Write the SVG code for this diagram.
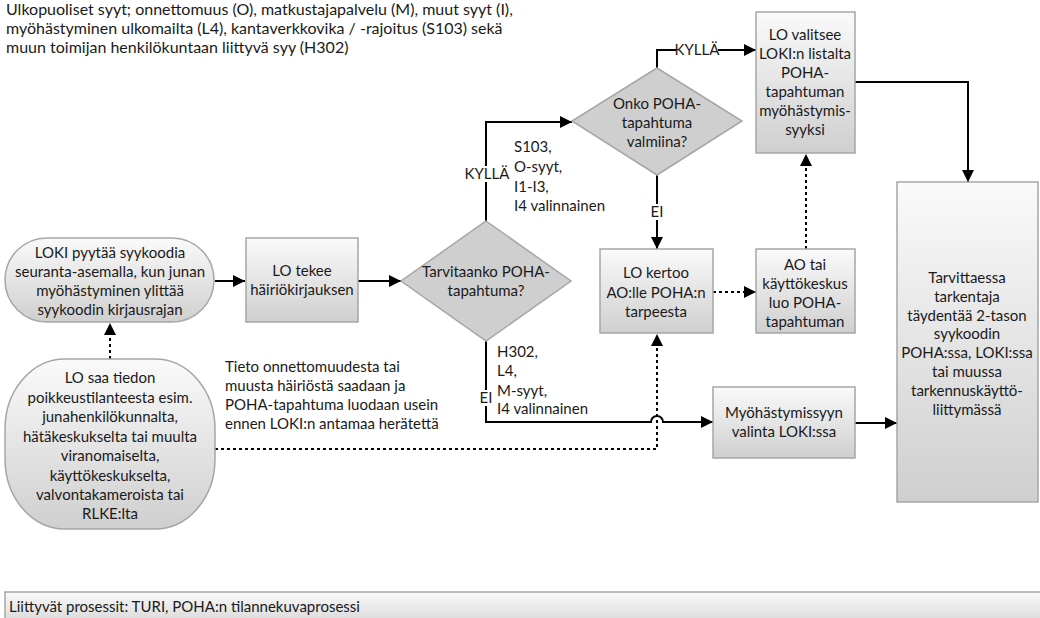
<svg xmlns="http://www.w3.org/2000/svg" width="1040" height="618" viewBox="0 0 1040 618">
<defs>
<linearGradient id="g" x1="0" y1="0" x2="0" y2="1">
<stop offset="0" stop-color="#fafafa"/>
<stop offset="1" stop-color="#cfcfcf"/>
</linearGradient>
<marker id="a" viewBox="0 0 10 10" refX="10" refY="5" markerWidth="12" markerHeight="12" markerUnits="userSpaceOnUse" orient="auto">
<path d="M0,0 L10,5 L0,10 z" fill="#000"/>
</marker>
<style>
text{font-family:Lato,"Liberation Sans",sans-serif;font-size:15px;fill:#1a1a1a}
.c{text-anchor:middle}
.h{font-size:16px}
.n{fill:url(#g);stroke:#a6a6a6;stroke-width:1.5}
.d{fill:#cfcfcf;stroke:#a6a6a6;stroke-width:1.5}
.l{fill:none;stroke:#000;stroke-width:2}
.dot{fill:none;stroke:#000;stroke-width:2;stroke-dasharray:3 3}
.bg{fill:#fff}
</style>
</defs>
<rect width="1040" height="618" fill="#fff"/>

<g id="header">
<text class="h" x="6" y="15">Ulkopuoliset syyt; onnettomuus (O), matkustajapalvelu (M), muut syyt (I),</text>
<text class="h" x="6" y="34">myöhästyminen ulkomailta (L4), kantaverkkovika / -rajoitus (S103) sekä</text>
<text class="h" x="6" y="53">muun toimijan henkilökuntaan liittyvä syy (H302)</text>
</g>

<g id="connectors">
<path class="l" d="M215,281 H245" marker-end="url(#a)"/>
<path class="l" d="M358,281 H401" marker-end="url(#a)"/>
<path class="l" d="M486,221 V122 H572" marker-end="url(#a)"/>
<path class="l" d="M657,68 V50 H756" marker-end="url(#a)"/>
<path class="l" d="M657,175 V249" marker-end="url(#a)"/>
<path class="dot" d="M713,292 H756" marker-end="url(#a)"/>
<path class="dot" d="M806,249 V154" marker-end="url(#a)"/>
<path class="l" d="M855,82 H968 V182" marker-end="url(#a)"/>
<path class="l" d="M486,341 V422 H651 A6,6 0 0 1 663,422 H713" marker-end="url(#a)"/>
<path class="l" d="M855,423 H897" marker-end="url(#a)"/>
<path class="dot" d="M215,449 H657 V334" marker-end="url(#a)"/>
<path class="dot" d="M110,359 V323" marker-end="url(#a)"/>
<rect class="bg" x="676" y="42" width="42" height="16"/>
<text class="c" x="697" y="55">KYLLÄ</text>
<rect class="bg" x="649" y="204" width="16" height="16"/>
<text class="c" x="657" y="217">EI</text>
<rect class="bg" x="467" y="166" width="40" height="16"/>
<text class="c" x="487" y="179">KYLLÄ</text>
<rect class="bg" x="478" y="390" width="16" height="16"/>
<text class="c" x="486" y="403">EI</text>
<text x="514" y="152">S103,</text>
<text x="514" y="172">O-syyt,</text>
<text x="514" y="192">I1-I3,</text>
<text x="514" y="211">I4 valinnainen</text>
<text x="497" y="357">H302,</text>
<text x="497" y="376">L4,</text>
<text x="497" y="396">M-syyt,</text>
<text x="497" y="414">I4 valinnainen</text>
<text x="225" y="372">Tieto onnettomuudesta tai</text>
<text x="225" y="391">muusta häiriöstä saadaan ja</text>
<text x="225" y="410">POHA-tapahtuma luodaan usein</text>
<text x="225" y="429">ennen LOKI:n antamaa herätettä</text>
</g>

<g id="loki">
<rect class="n" x="5" y="238" width="209" height="84" rx="42" ry="42"/>
<text class="c" x="110" y="258">LOKI pyytää syykoodia</text>
<text class="c" x="110" y="277">seuranta-asemalla, kun junan</text>
<text class="c" x="110" y="296">myöhästyminen ylittää</text>
<text class="c" x="110" y="315">syykoodin kirjausrajan</text>
</g>

<g id="lotekee">
<rect class="n" x="246" y="238" width="112" height="84"/>
<text class="c" x="302" y="276">LO tekee</text>
<text class="c" x="302" y="295">häiriökirjauksen</text>
</g>

<g id="tarvitaanko">
<path class="d" d="M486,221 L571,281 L486,341 L401,281 z"/>
<text class="c" x="486" y="277">Tarvitaanko POHA-</text>
<text class="c" x="486" y="296">tapahtuma?</text>
</g>

<g id="onko">
<path class="d" d="M657,68 L742,121 L657,175 L572,121 z"/>
<text class="c" x="657" y="109">Onko POHA-</text>
<text class="c" x="657" y="128">tapahtuma</text>
<text class="c" x="657" y="147">valmiina?</text>
</g>

<g id="lovalitsee">
<rect class="n" x="756" y="12" width="99" height="141"/>
<text class="c" x="805" y="40">LO valitsee</text>
<text class="c" x="805" y="59">LOKI:n listalta</text>
<text class="c" x="805" y="78">POHA-</text>
<text class="c" x="805" y="97">tapahtuman</text>
<text class="c" x="805" y="116">myöhästymis-</text>
<text class="c" x="805" y="135">syyksi</text>
</g>

<g id="lokertoo">
<rect class="n" x="600" y="249" width="113" height="84"/>
<text class="c" x="656" y="278">LO kertoo</text>
<text class="c" x="656" y="298">AO:lle POHA:n</text>
<text class="c" x="656" y="317">tarpeesta</text>
</g>

<g id="ao">
<rect class="n" x="756" y="249" width="99" height="84"/>
<text class="c" x="805" y="270">AO tai</text>
<text class="c" x="805" y="289">käyttökeskus</text>
<text class="c" x="805" y="308">luo POHA-</text>
<text class="c" x="805" y="327">tapahtuman</text>
</g>

<g id="myohastymis">
<rect class="n" x="713" y="387" width="142" height="71"/>
<text class="c" x="784" y="418">Myöhästymissyyn</text>
<text class="c" x="784" y="437">valinta LOKI:ssa</text>
</g>

<g id="tarvittaessa">
<rect class="n" x="897" y="182" width="141" height="320"/>
<text class="c" x="967" y="283">Tarvittaessa</text>
<text class="c" x="967" y="302">tarkentaja</text>
<text class="c" x="967" y="321">täydentää 2-tason</text>
<text class="c" x="967" y="339">syykoodin</text>
<text class="c" x="967" y="358">POHA:ssa, LOKI:ssa</text>
<text class="c" x="967" y="377">tai muussa</text>
<text class="c" x="967" y="396">tarkennuskäyttö-</text>
<text class="c" x="967" y="415">liittymässä</text>
</g>

<g id="losaa">
<rect class="n" x="5" y="359" width="210" height="170" rx="60" ry="70"/>
<text class="c" x="110" y="383">LO saa tiedon</text>
<text class="c" x="110" y="403">poikkeustilanteesta esim.</text>
<text class="c" x="110" y="422">junahenkilökunnalta,</text>
<text class="c" x="110" y="442">hätäkeskukselta tai muulta</text>
<text class="c" x="110" y="461">viranomaiselta,</text>
<text class="c" x="110" y="481">käyttökeskukselta,</text>
<text class="c" x="110" y="500">valvontakameroista tai</text>
<text class="c" x="110" y="519">RLKE:lta</text>
</g>

<g id="prosessit">
<rect class="n" x="5" y="592" width="1040" height="40"/>
<text x="9" y="612">Liittyvät prosessit: TURI, POHA:n tilannekuvaprosessi</text>
</g>
</svg>
